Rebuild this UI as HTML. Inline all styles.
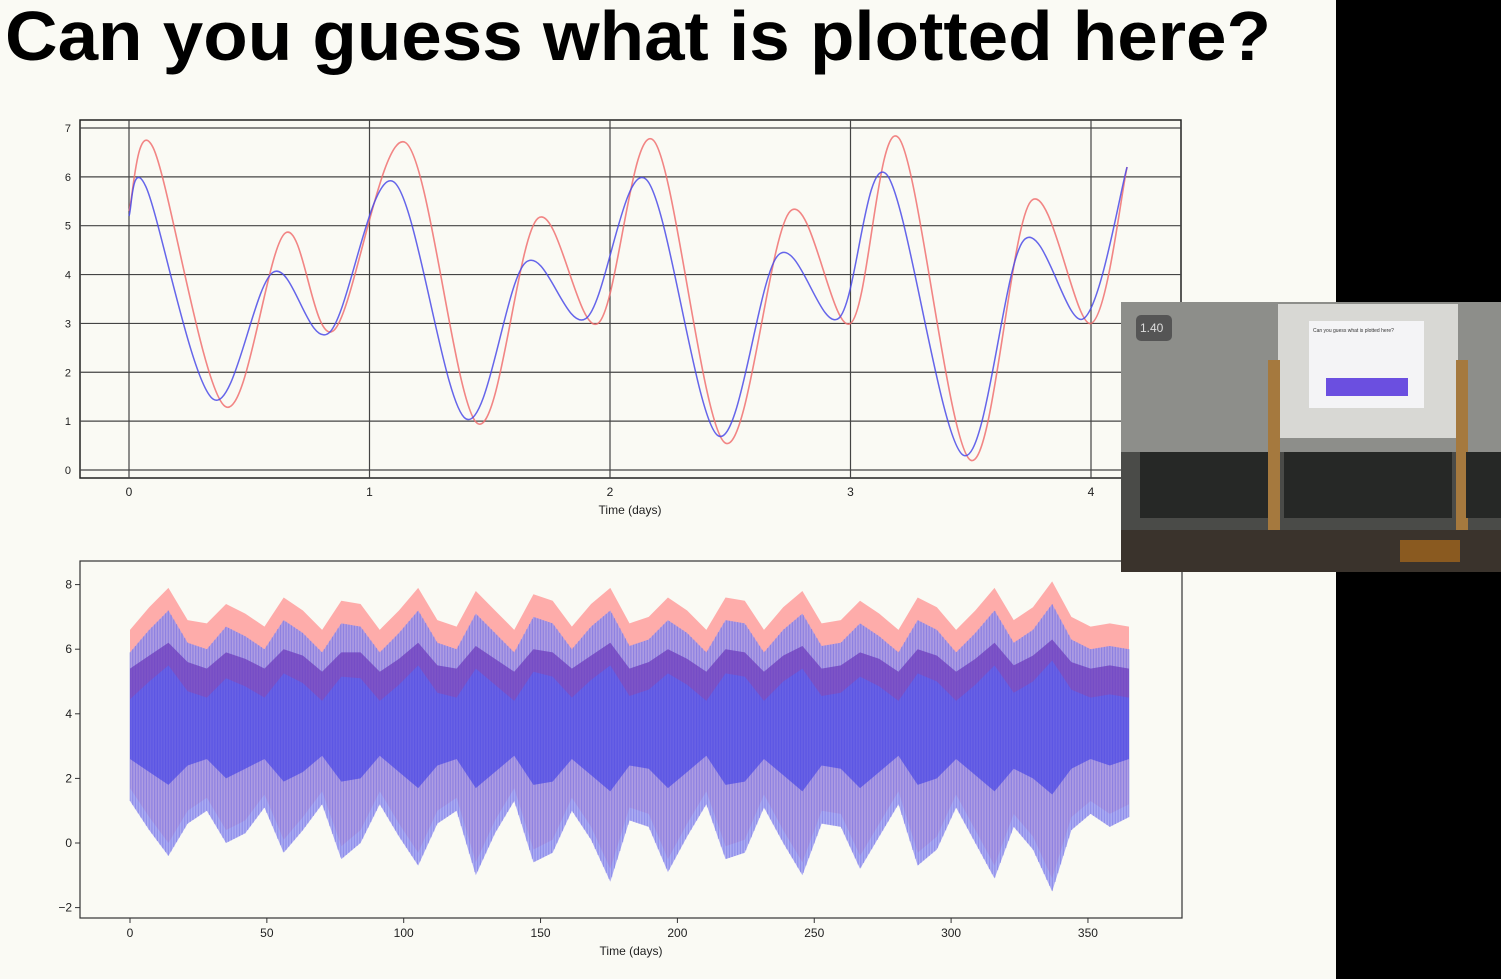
<!DOCTYPE html>
<html><head><meta charset="utf-8"><style>
html,body{margin:0;padding:0;background:#000;}
svg{display:block;font-family:"Liberation Sans",sans-serif;}
</style></head><body>
<svg id="s" width="1501" height="979" viewBox="0 0 1501 979">
<rect x="0" y="0" width="1336" height="979" fill="#fafaf4"/>
<rect x="1336" y="0" width="165" height="979" fill="#000"/>
<text x="5" y="60" font-size="70" font-weight="bold" fill="#000" textLength="1266" lengthAdjust="spacingAndGlyphs">Can you guess what is plotted here?</text>
<g id="top"></g>
<g id="bot"></g>
<g>
<rect x="1121" y="302" width="380" height="270" fill="#4a4b48"/>
<rect x="1121" y="302" width="380" height="150" fill="#8d8e8a"/>
<rect x="1278" y="304" width="180" height="134" fill="#d8d8d4"/>
<rect x="1309" y="321" width="115" height="87" fill="#f4f4f6"/>
<text x="1313" y="332" font-size="5" fill="#333">Can you guess what is plotted here?</text>
<rect x="1326" y="378" width="82" height="18" fill="#6b4fe0"/>
<rect x="1268" y="360" width="12" height="190" fill="#a5793e"/>
<rect x="1456" y="360" width="12" height="190" fill="#a5793e"/>
<rect x="1140" y="452" width="128" height="66" fill="#262826"/>
<rect x="1284" y="452" width="168" height="66" fill="#262826"/>
<rect x="1466" y="452" width="35" height="66" fill="#262826"/>
<rect x="1121" y="530" width="380" height="42" fill="#3a332c"/>
<rect x="1400" y="540" width="60" height="22" fill="#8a5a20"/>
<rect x="1136" y="315" width="36" height="26" rx="5" fill="#555"/>
<text x="1140" y="332" font-size="12" fill="#ddd">1.40</text>
</g>
</svg>
<script>
const redT=[0,0.1,0.4,0.65,0.85,1.15,1.45,1.7,1.95,2.18,2.48,2.75,3.0,3.2,3.5,3.75,4.0,4.15];
const redV=[5.3,6.6,1.3,4.85,2.85,6.7,0.95,5.15,3.0,6.75,0.55,5.3,3.0,6.8,0.2,5.5,3.0,6.2];
const blueT=[0,0.07,0.35,0.6,0.83,1.1,1.4,1.65,1.9,2.15,2.45,2.7,2.95,3.15,3.47,3.72,3.97,4.15];
const blueV=[5.2,5.8,1.45,4.05,2.8,5.9,1.05,4.25,3.1,5.95,0.7,4.4,3.1,6.05,0.3,4.7,3.1,6.2];
const topXTicks=[0,1,2,3,4];
const topYTicks=[0,1,2,3,4,5,6,7];
const redTop=[6.6,7.3,7.9,6.9,6.8,7.4,7.1,6.7,7.6,7.2,6.6,7.5,7.4,6.6,7.2,7.9,6.9,6.7,7.8,7.2,6.6,7.7,7.5,6.7,7.4,7.9,6.8,7.0,7.6,7.2,6.6,7.6,7.5,6.6,7.3,7.8,6.8,6.9,7.5,7.1,6.6,7.6,7.3,6.6,7.2,7.9,6.9,7.3,8.1,7.0,6.7,6.8,6.7];
const blueTop=[5.9,6.6,7.2,6.2,6.0,6.7,6.4,6.0,6.9,6.5,5.9,6.8,6.7,5.9,6.5,7.2,6.2,6.0,7.1,6.5,5.9,7.0,6.8,6.0,6.7,7.2,6.1,6.3,6.9,6.5,5.9,6.9,6.8,5.9,6.6,7.1,6.1,6.2,6.8,6.4,5.9,6.9,6.6,5.9,6.5,7.2,6.2,6.6,7.4,6.3,6.0,6.1,6.0];
const coreTop=[5.4,5.8,6.2,5.6,5.4,5.9,5.7,5.4,6.0,5.8,5.3,5.9,5.9,5.3,5.7,6.2,5.5,5.4,6.1,5.7,5.3,6.0,5.9,5.4,5.8,6.2,5.4,5.6,6.0,5.7,5.3,6.0,5.9,5.3,5.8,6.1,5.4,5.5,5.9,5.7,5.3,6.0,5.8,5.3,5.7,6.2,5.5,5.8,6.3,5.6,5.4,5.5,5.4];
const coreBot=[2.6,2.2,1.8,2.4,2.6,2.0,2.3,2.6,1.9,2.2,2.7,1.9,2.0,2.7,2.2,1.7,2.4,2.6,1.7,2.2,2.7,1.8,1.9,2.6,2.1,1.6,2.4,2.3,1.7,2.2,2.7,1.8,1.9,2.6,2.1,1.6,2.4,2.3,1.7,2.2,2.7,1.8,2.0,2.6,2.1,1.6,2.3,2.0,1.5,2.3,2.6,2.4,2.6];
const blueBot=[1.3,0.4,-0.4,0.6,1.0,0.0,0.3,1.1,-0.3,0.4,1.2,-0.5,0.0,1.2,0.2,-0.7,0.6,1.0,-1.0,0.3,1.3,-0.6,-0.3,1.0,0.1,-1.2,0.7,0.5,-0.9,0.2,1.2,-0.5,-0.3,1.1,0.0,-1.0,0.6,0.5,-0.8,0.2,1.2,-0.7,-0.2,1.1,0.0,-1.1,0.5,-0.2,-1.5,0.4,0.9,0.5,0.8];
const redBot=[1.7,0.8,0.0,1.0,1.4,0.4,0.7,1.5,0.1,0.8,1.6,-0.1,0.4,1.6,0.6,-0.3,1.0,1.4,-0.6,0.7,1.7,-0.2,0.1,1.4,0.5,-0.8,1.1,0.9,-0.5,0.6,1.6,-0.1,0.1,1.5,0.4,-0.6,1.0,0.9,-0.4,0.6,1.6,-0.3,0.2,1.5,0.4,-0.7,0.9,0.2,-1.1,0.8,1.3,0.9,1.2];
const botXTicks=[0,50,100,150,200,250,300,350];
const botYTicks=[-2,0,2,4,6,8];

const NS="http://www.w3.org/2000/svg";
function mk(tag,attrs,parent){const e=document.createElementNS(NS,tag);for(const k in attrs)e.setAttribute(k,attrs[k]);parent.appendChild(e);return e;}
function spline(pts){let d="M"+pts[0][0]+","+pts[0][1];for(let i=0;i<pts.length-1;i++){const p0=pts[Math.max(i-1,0)],p1=pts[i],p2=pts[i+1],p3=pts[Math.min(i+2,pts.length-1)];const c1=[p1[0]+(p2[0]-p0[0])/6,p1[1]+(p2[1]-p0[1])/6],c2=[p2[0]-(p3[0]-p1[0])/6,p2[1]-(p3[1]-p1[1])/6];d+=" C"+c1+" "+c2+" "+p2;}return d;}

const T=document.getElementById('top');
const tx=v=>129+v*240.5, ty=v=>470-v*48.86;
let r=mk('rect',{x:80,y:120,width:1101,height:358,fill:'none',stroke:'#222','stroke-width':1.5},T);

topYTicks.forEach(v=>{let l=mk('line',{x1:80,x2:1181,y1:ty(v),y2:ty(v),stroke:'#444','stroke-width':1.2},T);

let t=mk('text',{x:71,y:ty(v)+4,'font-size':11,'text-anchor':'end',fill:'#222'},T);t.textContent=v;
});
topXTicks.forEach(v=>{let l=mk('line',{x1:tx(v),x2:tx(v),y1:120,y2:478,stroke:'#444','stroke-width':1.2},T);

let t=mk('text',{x:tx(v),y:496,'font-size':12,'text-anchor':'middle',fill:'#222'},T);t.textContent=v;
});
let xt=mk('text',{x:630,y:514,'font-size':12,'text-anchor':'middle',fill:'#222'},T);xt.textContent='Time (days)';

let rp=mk('path',{d:spline(redT.map((t,i)=>[tx(t),ty(redV[i])])),fill:'none',stroke:'#f07070','stroke-width':1.6,'stroke-opacity':0.85},T);

let bp=mk('path',{d:spline(blueT.map((t,i)=>[tx(t),ty(blueV[i])])),fill:'none',stroke:'#4a4ae8','stroke-width':1.5,'stroke-opacity':0.85},T);


const B=document.getElementById('bot');
const bx=v=>130+v*2.737, by=v=>843-v*32.3;
const n=redTop.length, step=365/(n-1);
function band(top,bot,fill,op,name){let pts=top.map((v,i)=>bx(i*step)+","+by(v));for(let i=n-1;i>=0;i--)pts.push(bx(i*step)+","+by(bot[i]));
let p=mk('polygon',{points:pts.join(" "),fill:fill,'fill-opacity':op},B);
}
function interp(arr,d){const f=d/step,i=Math.min(Math.floor(f),n-2),t=f-i;return arr[i]*(1-t)+arr[i+1]*t;}
band(redTop,redBot,'#ff8a8a',0.7,'red-envelope');
band(blueTop,blueBot,'#9a9af0',0.8,'blue-envelope');
for(let d=0;d<=365;d+=1){let l=mk('line',{x1:bx(d),x2:bx(d),y1:by(interp(blueTop,d)),y2:by(interp(blueBot,d)),stroke:'#3030e0','stroke-opacity':0.25,'stroke-width':1.2},B);
}
band(coreTop,coreBot,'#3a3ae6',0.6,'core-band');
band(coreTop,blueTop.map((v,i)=>(v+coreTop[i])/2-1.2),'#c0306a',0.25,'red-core-band');
let br=mk('rect',{x:80,y:561,width:1102,height:357,fill:'none',stroke:'#333','stroke-width':1.2},B);

botYTicks.forEach(v=>{let l=mk('line',{x1:75,x2:80,y1:by(v),y2:by(v),stroke:'#333'},B);

let t=mk('text',{x:72,y:by(v)+4,'font-size':12,'text-anchor':'end',fill:'#222'},B);t.textContent=v<0?'\u2212'+(-v):v;
});
botXTicks.forEach(v=>{let l=mk('line',{x1:bx(v),x2:bx(v),y1:918,y2:923,stroke:'#333'},B);

let t=mk('text',{x:bx(v),y:937,'font-size':12,'text-anchor':'middle',fill:'#222'},B);t.textContent=v;
});
let bt=mk('text',{x:631,y:955,'font-size':12,'text-anchor':'middle',fill:'#222'},B);bt.textContent='Time (days)';

</script>
</body></html>
